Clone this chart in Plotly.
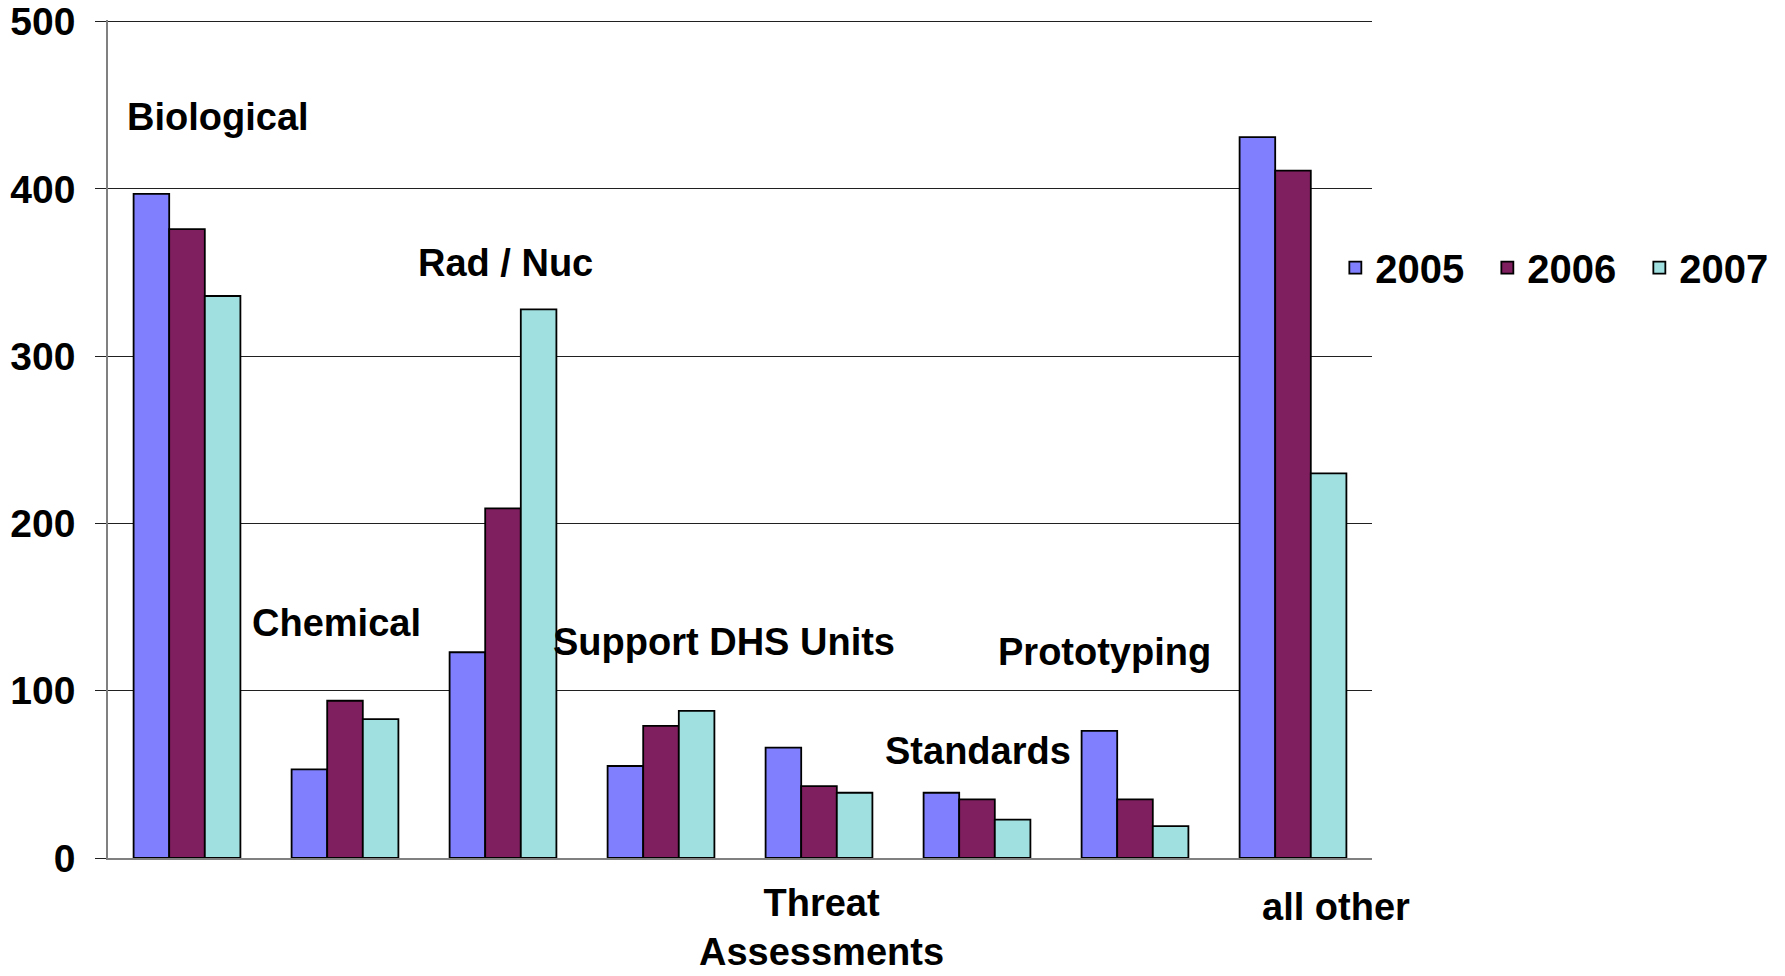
import plotly.graph_objects as go

categories = ["Biological", "Chemical", "Rad / Nuc", "Support DHS Units",
              "Threat Assessments", "Standards", "Prototyping", "all other"]
years = ["2005", "2006", "2007"]
v2005 = [397, 53, 123, 55, 66, 39, 76, 431]
v2006 = [376, 94, 209, 79, 43, 35, 35, 411]
v2007 = [336, 83, 328, 88, 39, 23, 19, 230]
y_ticks = [0, 100, 200, 300, 400, 500]

colors = ["#8080FF", "#7F1F5F", "#A0E0E0"]
FONT = "Liberation Sans, Arial, sans-serif"

fig = go.Figure()
for name, vals, col in zip(years, [v2005, v2006, v2007], colors):
    fig.add_trace(go.Bar(
        x=categories, y=vals, name=name,
        marker=dict(color=col, line=dict(color="black", width=1.8)),
    ))

# category labels placed around the bars as in the original (paper y)
label_cfg = {
    "Biological": dict(y=0.884, xshift=31),
    "Chemical": dict(y=0.280, xshift=-9),
    "Rad / Nuc": dict(y=0.710, xshift=2),
    "Support DHS Units": dict(y=0.258, xshift=63),
    "Threat Assessments": dict(y=-0.0830, xshift=2),
    "Standards": dict(y=0.128, xshift=1),
    "Prototyping": dict(y=0.246, xshift=-31),
    "all other": dict(y=-0.0586, xshift=43),
}
for cat in categories:
    cfg = label_cfg[cat]
    text = cat.replace("Threat Assessments", "Threat<br>Assessments")
    fig.add_annotation(
        x=cat, y=cfg["y"], xref="x", yref="paper", text=text,
        showarrow=False, xshift=cfg["xshift"], xanchor="center", yanchor="middle",
        borderpad=0,
        font=dict(family=FONT, size=38, color="black", weight="bold"),
    )

fig.update_layout(
    width=1785, height=976,
    margin=dict(l=108, r=413, t=20, b=118, autoexpand=False),
    paper_bgcolor="white", plot_bgcolor="white",
    barmode="group", bargap=0.324, bargroupgap=0,
    showlegend=True,
    legend=dict(
        orientation="h", x=0.971, xanchor="left", y=0.7045, yanchor="middle",
        font=dict(family=FONT, size=40, color="black", weight="bold"),
        entrywidth=107, itemwidth=30, bgcolor="rgba(0,0,0,0)",
    ),
    font=dict(family=FONT, color="black"),
)
fig.update_xaxes(
    range=[-0.5, len(categories) - 0.5], autorange=False,
    showticklabels=False, ticks="", showgrid=False, automargin=False,
    showline=True, linecolor="#808080", linewidth=1.5,
    categoryorder="array", categoryarray=categories,
)
fig.update_yaxes(
    range=[0, 501], autorange=False,
    tickvals=y_ticks, ticktext=[str(t) for t in y_ticks],
    showgrid=True, gridcolor="#202020", gridwidth=1.2, automargin=False,
    showline=True, linecolor="#808080", linewidth=1.5,
    ticks="outside", ticklen=11, tickcolor="#202020", tickwidth=1.2,
    ticklabelstandoff=12, ticklabeloverflow="allow",
    tickfont=dict(family=FONT, size=39, color="black", weight="bold"),
    zeroline=False,
)

fig.write_html(
    "out.html",
    config={"displayModeBar": False},
    post_script="document.body.style.margin='0';document.body.style.overflow='hidden';",
)
